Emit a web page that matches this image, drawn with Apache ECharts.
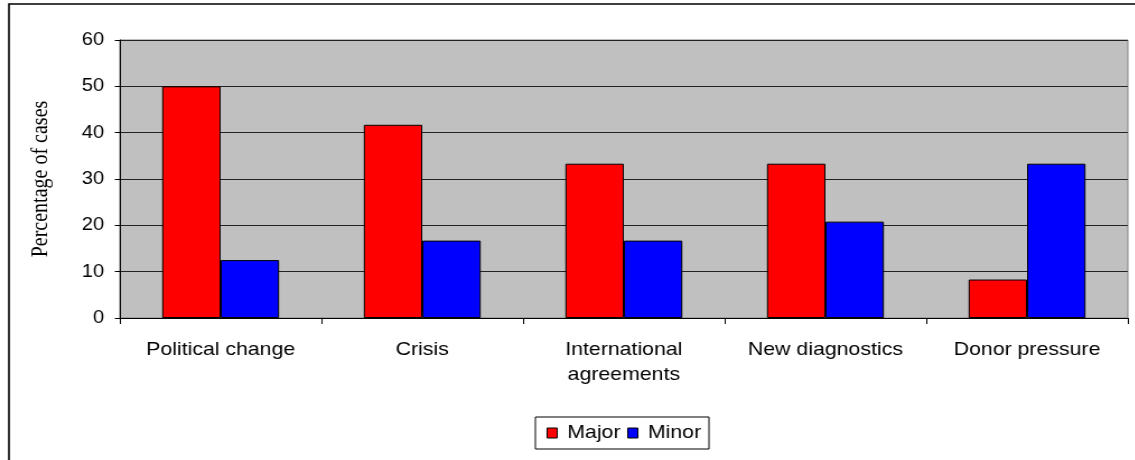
<!DOCTYPE html>
<html>
<head>
<meta charset="utf-8">
<script src="https://cdn.jsdelivr.net/npm/echarts@6/dist/echarts.min.js"></script>
<style>
  html, body { margin: 0; padding: 0; background: #fff; overflow: hidden; }
  /* the source picture is a little stretched sideways, so draw narrower and stretch */
  #chart { width: 1014px; height: 460px; transform: scaleX(1.12); transform-origin: 0 0; }
</style>
</head>
<body>
<div id="chart"></div>
<script>
// data
const categories = ['Political change', 'Crisis', 'International\nagreements', 'New diagnostics', 'Donor pressure']
const major = [50, 41.7, 33.3, 33.3, 8.3]
const minor = [12.5, 16.7, 16.7, 20.8, 33.3]
const yTicks = { min: 0, max: 60, interval: 10 }

const myChart = echarts.init(document.getElementById('chart'))
const font = 'Arial, "Liberation Sans", sans-serif'

const option = {
  animation: false,
  backgroundColor: '#fff',
  graphic: [
    {
      // outer chart frame (only top + left edges are inside the picture)
      type: 'rect',
      shape: { x: 8, y: 4, width: 1100, height: 480 },
      style: { fill: 'none', stroke: '#000', lineWidth: 1.6 },
      silent: true
    }
  ],
  grid: {
    left: 107,
    right: 7,
    top: 40,
    bottom: 142,
    show: true,
    backgroundColor: '#c0c0c0',
    borderColor: '#808080',
    borderWidth: 1
  },
  legend: {
    data: ['Major', 'Minor'],
    left: 478,
    top: 417,
    padding: [6, 7, 6, 10],
    itemWidth: 9,
    itemHeight: 10,
    itemGap: 6,
    borderColor: '#000',
    borderWidth: 1,
    borderRadius: 0,
    backgroundColor: '#fff',
    icon: 'rect',
    itemStyle: { borderColor: '#000', borderWidth: 1 },
    textStyle: { fontFamily: font, fontSize: 19, color: '#000', padding: [0, 0, 0, 4], lineHeight: 20 }
  },
  xAxis: {
    type: 'category',
    data: categories,
    axisLine: { show: true, lineStyle: { color: '#000', width: 1 } },
    axisTick: { show: true, length: 6, lineStyle: { color: '#000' } },
    axisLabel: {
      interval: 0,
      margin: 19,
      color: '#000',
      fontFamily: font,
      fontSize: 19,
      lineHeight: 25
    },
    splitLine: { show: false }
  },
  yAxis: {
    type: 'value',
    min: yTicks.min,
    max: yTicks.max,
    interval: yTicks.interval,
    name: 'Percentage of cases',
    nameLocation: 'middle',
    nameGap: 60,
    nameTextStyle: {
      fontFamily: '"Liberation Serif", "Times New Roman", serif',
      fontSize: 20,
      color: '#000'
    },
    axisLine: { show: true, lineStyle: { color: '#000', width: 1 } },
    axisTick: { show: true, length: 4.5, lineStyle: { color: '#000' } },
    axisLabel: {
      margin: 14,
      color: '#000',
      fontFamily: font,
      fontSize: 18
    },
    splitLine: { show: true, lineStyle: { color: '#222', width: 1 } }
  },
  series: [
    {
      name: 'Major',
      type: 'bar',
      data: major,
      barGap: '0%',
      barCategoryGap: '42%',
      itemStyle: { color: '#ff0000', borderColor: '#000', borderWidth: 1 }
    },
    {
      name: 'Minor',
      type: 'bar',
      data: minor,
      itemStyle: { color: '#0000ff', borderColor: '#000', borderWidth: 1 }
    }
  ]
}
myChart.setOption(option)
</script>
</body>
</html>
